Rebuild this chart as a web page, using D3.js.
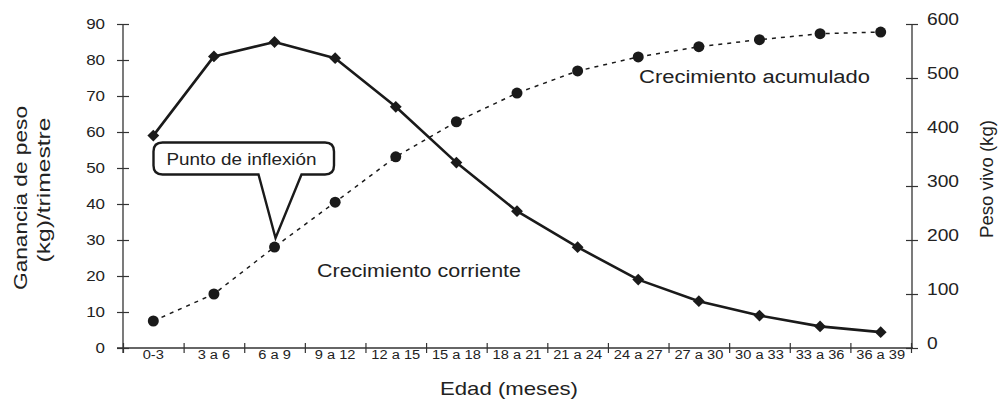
<!DOCTYPE html>
<html><head><meta charset="utf-8">
<script src="https://cdn.jsdelivr.net/npm/d3@7"></script>
<style>
html,body{margin:0;padding:0;background:#fff;}
svg{display:block;font-family:"Liberation Sans",Arial,sans-serif;}
</style></head>
<body><svg id="c" width="1001" height="405"></svg>
<script>
const categories = ["0-3","3 a 6","6 a 9","9 a 12","12 a 15","15 a 18","18 a 21","21 a 24","24 a 27","27 a 30","30 a 33","33 a 36","36 a 39"];
const ganancia = [59,81,85,80.5,67,51.5,38,28,19,13,9,6,4.4];
const pesoVivo = [50,100,187,270,354,419,472,513,539,558,571,582,585];
const leftTicks = [0,10,20,30,40,50,60,70,80,90];
const rightTicks = [0,100,200,300,400,500,600];
const leftTitle = ["Ganancia de peso","(kg)/trimestre"];
const rightTitle = "Peso vivo (kg)";
const xTitle = "Edad (meses)";
const labelCorriente = "Crecimiento corriente";
const labelAcumulado = "Crecimiento acumulado";
const calloutText = "Punto de inflexión";

const svg = d3.select("#c");
const L = 123, R = 911, T = 24, B = 348;
const ink = "#1a1a1a", axisCol = "#333", txt = "#222";

const x = d3.scaleBand().domain(categories).range([L, R]).padding(0);
const xb = d3.scaleLinear().domain([0, categories.length]).range([L, R]);
const yL = d3.scaleLinear().domain([0, 90]).range([B, T]);
const yR = d3.scaleLinear().domain([0, 600]).range([B, T]);

function stretch(sel, k){
  sel.each(function(){
    const l = this.getComputedTextLength();
    d3.select(this).attr("textLength", l*k).attr("lengthAdjust","spacingAndGlyphs");
  });
}

// X axis
const gx = svg.append("g").attr("transform",`translate(0,${B})`);
gx.call(d3.axisBottom(xb).tickValues(d3.range(0, categories.length+1)).tickFormat("").tickSizeOuter(0));
gx.select(".domain").attr("d", `M${L-6},0H${R+2}`).attr("stroke", axisCol).attr("stroke-width",1.3);
gx.selectAll(".tick line").attr("y1",-5).attr("y2",5).attr("stroke",axisCol).attr("stroke-width",1.2);
const gxl = svg.append("g").attr("transform",`translate(0,${B})`);
gxl.call(d3.axisBottom(x).tickSize(0).tickPadding(0));
gxl.select(".domain").remove();
gxl.selectAll(".tick text").attr("y", 11).attr("dy",0).attr("font-size",12).attr("fill",txt)
  .attr("font-family",'"Liberation Sans",Arial,sans-serif').call(stretch, 1.22);

// Left axis
const gl = svg.append("g").attr("transform",`translate(${L},0)`);
gl.call(d3.axisLeft(yL).tickValues(leftTicks).tickSizeOuter(0).tickPadding(0));
gl.select(".domain").attr("d", `M0,${T}V${B+5}`).attr("stroke",axisCol).attr("stroke-width",1.3);
gl.selectAll(".tick line").attr("x1",-6).attr("x2",6).attr("stroke",axisCol).attr("stroke-width",1.2);
gl.selectAll(".tick text").attr("x",-18).attr("dy",0).attr("y",4.5).attr("font-size",15).attr("fill",txt)
  .attr("font-family",'"Liberation Sans",Arial,sans-serif').call(stretch,1.13);

// Right axis
const gr = svg.append("g").attr("transform",`translate(${R+1},0)`);
gr.call(d3.axisRight(yR).tickValues(rightTicks).tickSizeOuter(0).tickPadding(0));
gr.select(".domain").attr("d", `M0,${T}V${B}`).attr("stroke",axisCol).attr("stroke-width",1.3);
gr.selectAll(".tick line").attr("x1",-6).attr("x2",6).attr("stroke",axisCol).attr("stroke-width",1.2);
gr.selectAll(".tick text").attr("x",15).attr("dy",0).attr("y",0.5).attr("font-size",16).attr("fill",txt)
  .attr("font-family",'"Liberation Sans",Arial,sans-serif').call(stretch,1.2);

// Titles
const lt = svg.append("g").attr("fill",txt).attr("font-size",18.5).attr("text-anchor","middle");
lt.append("text").attr("transform","translate(27,198) rotate(-90)").text(leftTitle[0])
  .attr("textLength",184).attr("lengthAdjust","spacingAndGlyphs");
lt.append("text").attr("transform","translate(50,190) rotate(-90)").text(leftTitle[1])
  .attr("textLength",145).attr("lengthAdjust","spacingAndGlyphs");
lt.append("text").attr("transform","translate(993,179) rotate(-90)").text(rightTitle)
  .attr("textLength",118).attr("lengthAdjust","spacingAndGlyphs");
lt.append("text").attr("x",509).attr("y",395).text(xTitle)
  .attr("textLength",138).attr("lengthAdjust","spacingAndGlyphs");

// Dashed accumulated line (right axis)
const lineR = d3.line().x((d,i)=>x(categories[i])+x.bandwidth()/2).y(d=>yR(d));
svg.append("path").datum(pesoVivo).attr("d",lineR).attr("fill","none")
  .attr("stroke",ink).attr("stroke-width",1.5).attr("stroke-dasharray","4,5");
svg.append("g").selectAll("circle").data(pesoVivo).join("circle")
  .attr("cx",(d,i)=>x(categories[i])+x.bandwidth()/2).attr("cy",d=>yR(d)).attr("r",5.5).attr("fill",ink);

// Solid current growth line (left axis)
const lineL = d3.line().x((d,i)=>x(categories[i])+x.bandwidth()/2).y(d=>yL(d));
svg.append("path").datum(ganancia).attr("d",lineL).attr("fill","none")
  .attr("stroke",ink).attr("stroke-width",2.6).attr("stroke-linejoin","round");
svg.append("g").selectAll("path").data(ganancia).join("path")
  .attr("d", d3.symbol(d3.symbolSquare, 70))
  .attr("transform",(d,i)=>`translate(${x(categories[i])+x.bandwidth()/2},${yL(d)}) rotate(45)`)
  .attr("fill",ink);

// Callout
const tipX = x(categories[2])+x.bandwidth()/2 + 1, tipY = yR(pesoVivo[2]) - 9;
const bx0=153.5, bx1=334, by0=142.5, by1=174.5, r=9, t0=258.5, t1=301.5;
const cp = `M${bx0+r},${by0} H${bx1-r} Q${bx1},${by0} ${bx1},${by0+r} V${by1-r} Q${bx1},${by1} ${bx1-r},${by1}
 H${t1} L${tipX},${tipY} L${t0},${by1} H${bx0+r} Q${bx0},${by1} ${bx0},${by1-r} V${by0+r} Q${bx0},${by0} ${bx0+r},${by0} Z`;
svg.append("path").attr("d",cp).attr("fill","#fff").attr("stroke",ink).attr("stroke-width",2.4).attr("stroke-linejoin","miter");
svg.append("text").attr("x",166.5).attr("y",164.5).attr("font-size",16.5).attr("fill",txt)
  .text(calloutText).attr("textLength",150).attr("lengthAdjust","spacingAndGlyphs");

// Series labels
svg.append("text").attr("x",317).attr("y",276.5).attr("font-size",18).attr("fill",txt)
  .text(labelCorriente).attr("textLength",204).attr("lengthAdjust","spacingAndGlyphs");
svg.append("text").attr("x",639).attr("y",82.5).attr("font-size",18).attr("fill",txt)
  .text(labelAcumulado).attr("textLength",231).attr("lengthAdjust","spacingAndGlyphs");
</script></body></html>
